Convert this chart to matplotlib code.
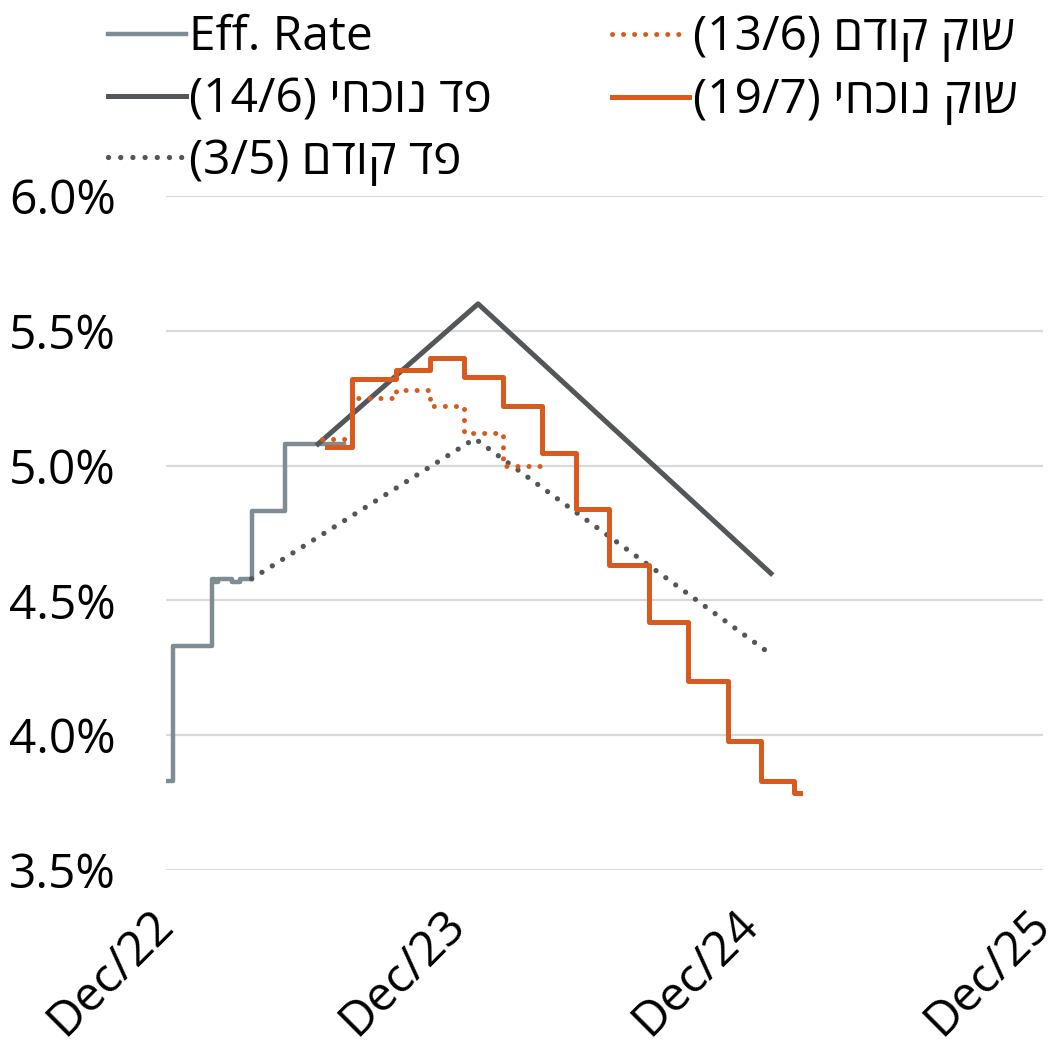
import pandas as pd
import numpy as np
import matplotlib
matplotlib.use('Agg')
import matplotlib.pyplot as plt

# Data ---------------------------------------------------------------------------------

# effective fed funds rate (step series)
eff_dates = ['2022-12-06', '2022-12-15', '2023-02-02', '2023-02-05', '2023-02-09',
             '2023-02-27', '2023-03-09', '2023-03-23', '2023-05-04', '2023-07-17']
eff_vals = [3.83, 4.33, 4.58, 4.57, 4.58, 4.57, 4.58, 4.83, 5.08, 5.08]

# fed dots, current (14/6) and previous (3/5)
fed_now_dates = ['2023-06-14', '2023-12-31', '2024-12-31']
fed_now_vals = [5.08, 5.60, 4.60]
fed_prev_dates = ['2023-03-23', '2023-12-27', '2024-12-31']
fed_prev_vals = [4.58, 5.10, 4.30]

# market pricing, previous (13/6)
mkt_prev_dates = ['2023-06-19', '2023-07-26', '2023-09-20', '2023-11-01', '2023-12-13',
                  '2024-01-31', '2024-03-20']
mkt_prev_vals = [5.10, 5.25, 5.28, 5.22, 5.12, 5.00, 5.00]

# market pricing, current (19/7)
mkt_now_dates = ['2023-06-25', '2023-07-26', '2023-09-20', '2023-11-01', '2023-12-13',
                 '2024-01-31', '2024-03-20', '2024-05-01', '2024-06-12', '2024-07-31',
                 '2024-09-18', '2024-11-07', '2024-12-18', '2025-01-29', '2025-02-05']
mkt_now_vals = [5.07, 5.32, 5.355, 5.40, 5.33, 5.22, 5.045, 4.84, 4.63, 4.42,
                4.20, 3.98, 3.83, 3.785, 3.785]

tick_dates = ['2022-12-06', '2023-12-06', '2024-12-06', '2025-12-06']
tick_labels = ['Dec/22', 'Dec/23', 'Dec/24', 'Dec/25']
y_ticks = [3.5, 4.0, 4.5, 5.0, 5.5, 6.0]


def heb_label(heb, date):
    # matplotlib has no bidi support, so write hebrew in visual order
    return '(' + date + ') ' + heb[::-1]


plt.rcParams['font.family'] = ['Open Sans', 'Liberation Sans', 'DejaVu Sans']
plt.rcParams['font.size'] = 34.5

gray = '#7E8C94'
dark = '#53575A'
orange = '#D95A1E'

fig = plt.figure(figsize=(10.59, 10.51), dpi=100)
ax = fig.add_axes([166 / 1059, 1 - 870 / 1051, 877 / 1059, 674 / 1051])

ax.plot(pd.to_datetime(eff_dates), eff_vals, drawstyle='steps-post', color=gray, lw=3.2,
        label='Eff. Rate')
ax.plot(pd.to_datetime(fed_now_dates), fed_now_vals, color=dark, lw=3.6,
        label=heb_label('פד נוכחי', '14/6'))
ax.plot(pd.to_datetime(fed_prev_dates), fed_prev_vals, color=dark, lw=3.8,
        linestyle=(0, (0.01, 2.3)), dash_capstyle='round',
        label=heb_label('פד קודם', '3/5'))
ax.plot(pd.to_datetime(mkt_prev_dates), mkt_prev_vals, drawstyle='steps-post', color=orange,
        lw=3.6, linestyle=(0, (0.01, 2.2)), dash_capstyle='round',
        label=heb_label('שוק קודם', '13/6'))
ax.plot(pd.to_datetime(mkt_now_dates), mkt_now_vals, drawstyle='steps-post', color=orange,
        lw=3.6, label=heb_label('שוק נוכחי', '19/7'))

ax.set_xlim(pd.Timestamp('2022-12-06'), pd.Timestamp('2025-12-06'))
ax.set_ylim(3.5, 6.0)
ax.set_yticks(y_ticks)
ax.set_yticklabels(['%.1f%%' % v for v in y_ticks])
ax.set_xticks(pd.to_datetime(tick_dates))
ax.set_xticklabels(tick_labels, rotation=45, ha='right', va='center', rotation_mode='anchor')

ax.grid(axis='y', color='#D9D9D9', lw=1.6)
ax.set_axisbelow(True)
for s in ax.spines.values():
    s.set_visible(False)
ax.tick_params(axis='y', length=0, pad=36)
ax.tick_params(axis='x', length=0, pad=34)

fig.legend(loc='upper left', bbox_to_anchor=(108 / 1059, 1 - 14 / 1051), ncol=2,
           frameon=False, borderpad=0, borderaxespad=0, handlelength=1.62,
           handletextpad=0.07, columnspacing=2.5, labelspacing=0.3, fontsize=34.5)

fig.savefig('out.png', dpi=100)
